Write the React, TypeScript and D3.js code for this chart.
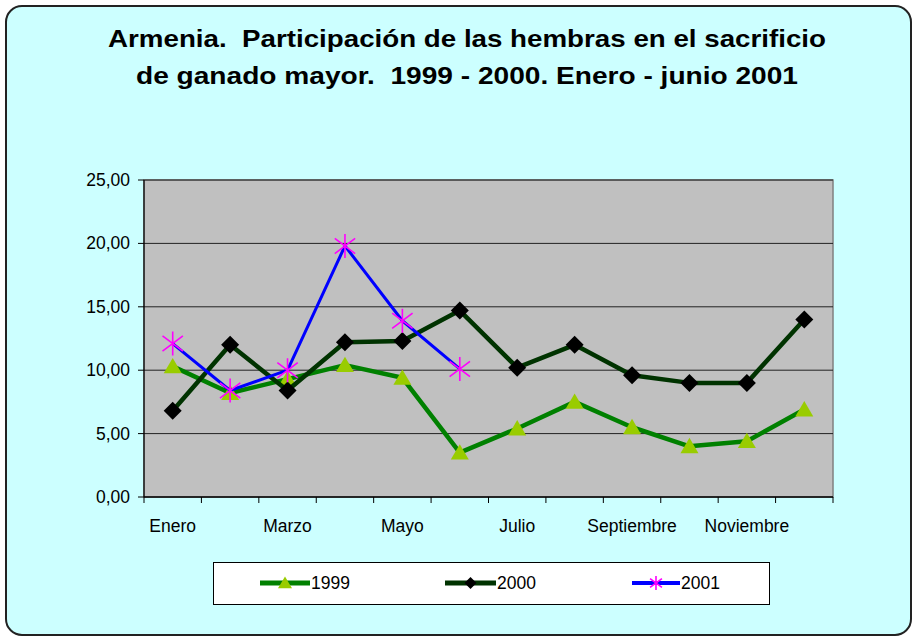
import React from 'react';
import * as d3 from 'd3';

const months = ['Enero', 'Febrero', 'Marzo', 'Abril', 'Mayo', 'Junio', 'Julio', 'Agosto', 'Septiembre', 'Octubre', 'Noviembre', 'Diciembre'];
const shownLabels = ['Enero', 'Marzo', 'Mayo', 'Julio', 'Septiembre', 'Noviembre'];
const s1999 = [10.3, 8.2, 9.3, 10.4, 9.4, 3.5, 5.4, 7.5, 5.5, 4.0, 4.4, 6.9];
const s2000 = [6.8, 12.0, 8.4, 12.2, 12.3, 14.7, 10.2, 12.0, 9.6, 9.0, 9.0, 14.0];
const s2001 = [12.1, 8.4, 10.0, 19.8, 13.9, 10.1];
const yTicks = [0, 5, 10, 15, 20, 25];
const seriesNames = ['1999', '2000', '2001'];
const titleLines = ['Armenia.  Participación de las hembras en el sacrificio', 'de ganado mayor.  1999 - 2000. Enero - junio 2001'];
const titleWidths = [718, 662];

const W = 914, H = 638;
const plot = { left: 144, right: 833, top: 180, bottom: 497 };
const FONT = '"Liberation Sans", Arial, sans-serif';

const locale = d3.formatLocale({ decimal: ',', thousands: '.', grouping: [3], currency: ['', ''] });
const fmt = locale.format('.2f');

function Triangle({ x, y, s = 9 }: { x: number; y: number; s?: number }) {
  const h = s * 1.7;
  return <path d={`M${x},${y - h * 0.55} L${x + s},${y + h * 0.45} L${x - s},${y + h * 0.45} Z`} fill="#99CC00" />;
}
function Diamond({ x, y, s = 9 }: { x: number; y: number; s?: number }) {
  return <path d={`M${x},${y - s} L${x + s},${y} L${x},${y + s} L${x - s},${y} Z`} fill="#000" />;
}
function Star({ x, y, s = 11 }: { x: number; y: number; s?: number }) {
  const d = s * 0.85;
  return (
    <path
      d={`M${x},${y - s} L${x},${y + s} M${x - d},${y - d * 0.75} L${x + d},${y + d * 0.75} M${x - d},${y + d * 0.75} L${x + d},${y - d * 0.75}`}
      stroke="#FF00FF"
      strokeWidth={1.6}
      fill="none"
    />
  );
}

export default function App() {
  const x = d3.scaleBand<string>().domain(months).range([plot.left, plot.right]).padding(0);
  const y = d3.scaleLinear().domain([0, 25]).range([plot.bottom, plot.top]);
  const cx = (i: number) => (x(months[i]) as number) + x.bandwidth() / 2;
  const line = d3.line<number>().x((_, i) => cx(i)).y((v) => y(v));
  const tickXs = months.map((m) => x(m) as number).concat([plot.right]);

  const legendY = 583;
  const legendItems = [
    { name: seriesNames[0], x1: 260, x2: 310, color: '#008000', w: 5, marker: (mx: number) => <Triangle x={mx} y={legendY} s={7} /> },
    { name: seriesNames[1], x1: 445, x2: 496, color: '#003300', w: 5, marker: (mx: number) => <Diamond x={mx} y={legendY} s={6} /> },
    { name: seriesNames[2], x1: 632, x2: 680, color: '#0000FF', w: 4, marker: (mx: number) => <Star x={mx} y={legendY} s={7} /> },
  ];

  return (
    <div style={{ position: 'absolute', left: 0, top: 0, width: W, height: H }}>
      <svg width={W} height={H} style={{ display: 'block' }} fontFamily={FONT}>
        <rect x={0} y={0} width={W} height={H} fill="#fff" />
        <rect x={6} y={6} width={905} height={629} rx={16} fill="#CCFFFF" stroke="#222" strokeWidth={2} />
        {titleLines.map((t, i) => (
          <text
            key={i}
            x={467}
            y={47 + i * 37}
            textAnchor="middle"
            fontSize={24}
            fontWeight="bold"
            fill="#000"
            textLength={titleWidths[i]}
            lengthAdjust="spacingAndGlyphs"
            style={{ whiteSpace: 'pre' }}
          >
            {t}
          </text>
        ))}
        {/* plot area */}
        <rect x={plot.left} y={plot.top} width={plot.right - plot.left} height={plot.bottom - plot.top} fill="#C0C0C0" stroke="#808080" strokeWidth={1.5} />
        {yTicks.slice(1).map((t) => (
          <line key={t} x1={plot.left} x2={plot.right} y1={y(t)} y2={y(t)} stroke="#222" strokeWidth={1} />
        ))}
        {/* axes */}
        <line x1={plot.left} x2={plot.left} y1={plot.top} y2={plot.bottom} stroke="#000" strokeWidth={1.2} />
        <line x1={plot.left} x2={plot.right} y1={plot.bottom} y2={plot.bottom} stroke="#000" strokeWidth={1.5} />
        {yTicks.map((t) => (
          <g key={t}>
            <line x1={plot.left - 6} x2={plot.left} y1={y(t)} y2={y(t)} stroke="#000" strokeWidth={1} />
            <text x={plot.left - 14} y={y(t) + 6} textAnchor="end" fontSize={17.5} fill="#000">
              {fmt(t)}
            </text>
          </g>
        ))}
        {tickXs.map((tx, i) => (
          <line key={i} x1={tx} x2={tx} y1={plot.bottom} y2={plot.bottom + 6} stroke="#000" strokeWidth={1} />
        ))}
        {months.map((m, i) =>
          shownLabels.includes(m) ? (
            <text key={m} x={cx(i)} y={532} textAnchor="middle" fontSize={17.5} fill="#000">
              {m}
            </text>
          ) : null
        )}
        {/* series 1999 */}
        <path d={line(s1999) || ''} fill="none" stroke="#008000" strokeWidth={4.5} strokeLinejoin="round" />
        {s1999.map((v, i) => (
          <Triangle key={i} x={cx(i)} y={y(v)} />
        ))}
        {/* series 2000 */}
        <path d={line(s2000) || ''} fill="none" stroke="#003300" strokeWidth={4.5} strokeLinejoin="round" />
        {s2000.map((v, i) => (
          <Diamond key={i} x={cx(i)} y={y(v)} />
        ))}
        {/* series 2001 */}
        <path d={line(s2001) || ''} fill="none" stroke="#0000FF" strokeWidth={3} strokeLinejoin="round" />
        {s2001.map((v, i) => (
          <Star key={i} x={cx(i)} y={y(v)} s={12} />
        ))}
        {/* legend */}
        <rect x={213.5} y={562.5} width={556} height={42} fill="#fff" stroke="#000" strokeWidth={1} />
        {legendItems.map((it) => (
          <g key={it.name}>
            <line x1={it.x1} x2={it.x2} y1={legendY} y2={legendY} stroke={it.color} strokeWidth={it.w} />
            {it.marker((it.x1 + it.x2) / 2)}
            <text x={it.x2 + 1} y={legendY + 6} fontSize={17.5} fill="#000">
              {it.name}
            </text>
          </g>
        ))}
      </svg>
    </div>
  );
}
